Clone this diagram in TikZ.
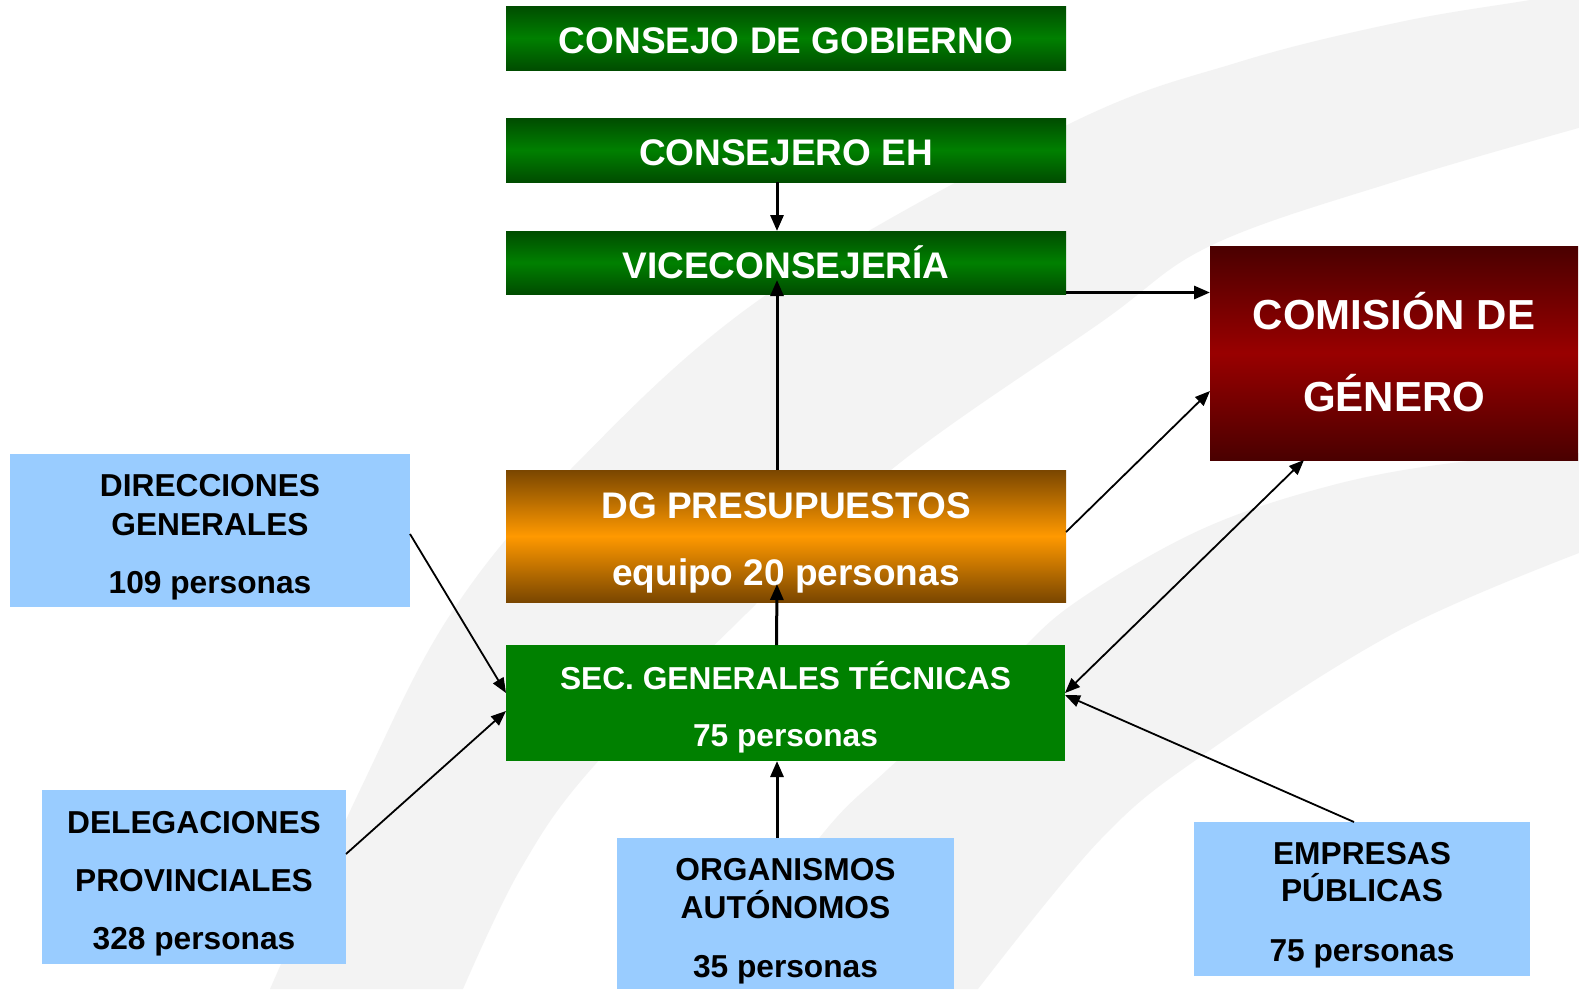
\documentclass[tikz,border=0pt]{standalone}
\usepackage{fontspec}
\setmainfont{Liberation Sans}
\usetikzlibrary{arrows.meta,calc}
\definecolor{gdark}{HTML}{004C00}
\definecolor{gmid}{HTML}{008000}
\definecolor{odark}{HTML}{7A4600}
\definecolor{omid}{HTML}{FF9900}
\definecolor{rdark}{HTML}{4A0000}
\definecolor{rmid}{HTML}{990000}
\definecolor{lblue}{HTML}{99CCFF}
\definecolor{bgband}{HTML}{F3F3F3}
\newcommand\FontTitle{\fontsize{37}{44}\selectfont\bfseries}
\newcommand\FontCom{\fontsize{42}{50}\selectfont\bfseries}
\newcommand\FontBody{\fontsize{31.7}{38}\selectfont\bfseries}
\begin{document}
\begin{tikzpicture}[x=1pt,y=-1pt,
  box/.style={rectangle, inner sep=0pt, outer sep=0pt, draw=none},
  greenbox/.style={box, top color=gdark, bottom color=gdark, middle color=gmid},
  orangebox/.style={box, top color=odark, bottom color=odark, middle color=omid},
  redbox/.style={box, top color=rdark, bottom color=rdark, middle color=rmid},
  solidgreen/.style={box, fill=gmid},
  bluebox/.style={box, fill=lblue},
  lbl/.style={inner sep=0pt, anchor=base},
  wlbl/.style={lbl, text=white},
  klbl/.style={lbl, text=black},
  arr/.style={-{Triangle[length=16pt,width=13pt]}, line width=3pt},
  thinarr/.style={-{Triangle[length=15pt,width=12pt]}, line width=1.8pt},
  dblarr/.style={{Triangle[length=15pt,width=12pt]}-{Triangle[length=15pt,width=12pt]}, line width=1.8pt}
]
\useasboundingbox (0,0) rectangle (1579,989);
\fill[white] (0,0) rectangle (1579,989);
% background swoosh
\begin{scope}
\clip (0,0) rectangle (1579,989);
\fill[bgband] plot[smooth, tension=0.6] coordinates {(270,989) (360,790) (450,615) (570,470) (766,295) (1067,125) (1239,62) (1400,22) (1530,0) (1600,-12)}
  -- plot[smooth, tension=0.6] coordinates {(1600,122) (1400,180) (1212,245) (1100,323) (891,470) (750,610) (593,767) (520,870) (463,989)} -- cycle;
\fill[bgband] plot[smooth, tension=0.6] coordinates {(710,989) (820,837) (887,770) (1000,670) (1073,604) (1200,530) (1333,485) (1460,462) (1600,452)}
  -- plot[smooth, tension=0.6] coordinates {(1600,545) (1400,630) (1203,755) (1100,840) (978,989)} -- cycle;
\end{scope}

% boxes
\node[greenbox, minimum width=560pt, minimum height=64pt] (cons) at (786,38) {};
\node[greenbox, minimum width=560pt, minimum height=64pt] (cej) at (786,150) {};
\node[greenbox, minimum width=560pt, minimum height=63pt] (vice) at (786,262.5) {};
\node[orangebox, minimum width=560pt, minimum height=132pt] (dg) at (786,536) {};
\node[solidgreen, minimum width=559pt, minimum height=116pt] (sec) at (785.5,703) {};
\node[redbox, minimum width=368pt, minimum height=214pt] (com) at (1394,353) {};
\node[bluebox, minimum width=400pt, minimum height=153pt] (dir) at (210,530.5) {};
\node[bluebox, minimum width=304pt, minimum height=174pt] (del) at (194,877) {};
\node[bluebox, minimum width=337pt, minimum height=151pt] (org) at (785.5,913.5) {};
\node[bluebox, minimum width=336pt, minimum height=154pt] (emp) at (1362,899) {};

% texts
\node[wlbl, font=\FontTitle] (tcons) at (786,53) {CONSEJO DE GOBIERNO};
\node[wlbl, font=\FontTitle] (tcej) at (786,165) {CONSEJERO EH};
\node[wlbl, font=\FontTitle] (tvice) at (786,278) {VICECONSEJERÍA};
\node[wlbl, font=\FontTitle] (tdg1) at (786,518) {DG PRESUPUESTOS};
\node[wlbl, font=\FontTitle] (tdg2) at (786,585) {equipo 20 personas};
\node[wlbl, font=\FontBody] (tsec1) at (785.5,689) {SEC. GENERALES TÉCNICAS};
\node[wlbl, font=\FontBody] (tsec2) at (785.5,746) {75 personas};
\node[wlbl, font=\FontCom] (tcom1) at (1394,329) {COMISIÓN DE};
\node[wlbl, font=\FontCom] (tcom2) at (1394,411) {GÉNERO};
\node[klbl, font=\FontBody] (tdir1) at (210,496) {DIRECCIONES};
\node[klbl, font=\FontBody] (tdir2) at (210,535) {GENERALES};
\node[klbl, font=\FontBody] (tdir3) at (210,593) {109 personas};
\node[klbl, font=\FontBody] (tdel1) at (194,833) {DELEGACIONES};
\node[klbl, font=\FontBody] (tdel2) at (194,891) {PROVINCIALES};
\node[klbl, font=\FontBody] (tdel3) at (194,949) {328 personas};
\node[klbl, font=\FontBody] (torg1) at (785.5,880) {ORGANISMOS};
\node[klbl, font=\FontBody] (torg2) at (785.5,918) {AUTÓNOMOS};
\node[klbl, font=\FontBody] (torg3) at (785.5,977) {35 personas};
\node[klbl, font=\FontBody] (temp1) at (1362,864) {EMPRESAS};
\node[klbl, font=\FontBody] (temp2) at (1362,901) {PÚBLICAS};
\node[klbl, font=\FontBody] (temp3) at (1362,961) {75 personas};

% connectors
\draw[arr] ([xshift=-9pt]cej.south) -- ([xshift=-9pt]vice.north);
\draw[arr] ([xshift=-9pt]dg.north) -- ([xshift=-9pt,yshift=14pt]vice.south);
\draw[arr] ([xshift=-9pt]sec.north) -- ([xshift=-9pt,yshift=18pt]dg.south);
\draw[arr] ([xshift=-8.5pt]org.north) -- ([xshift=-8.5pt]sec.south);
\draw[arr] ([yshift=1.5pt]vice.south east) -- ([yshift=1.5pt]vice.south east -| com.west);
\draw[thinarr] ([yshift=4pt]dg.east) -- ([yshift=-38pt]com.west);
\draw[dblarr] ([yshift=10pt]sec.east) -- ([xshift=-90pt]com.south);
\draw[thinarr] ([xshift=-8pt]emp.north) -- ([yshift=8pt]sec.east);
\draw[thinarr] ([yshift=-3.5pt]dir.east) -- ([yshift=10pt]sec.west);
\draw[thinarr] ([yshift=23pt]del.east) -- ([yshift=-8pt]sec.west);
\end{tikzpicture}
\end{document}
